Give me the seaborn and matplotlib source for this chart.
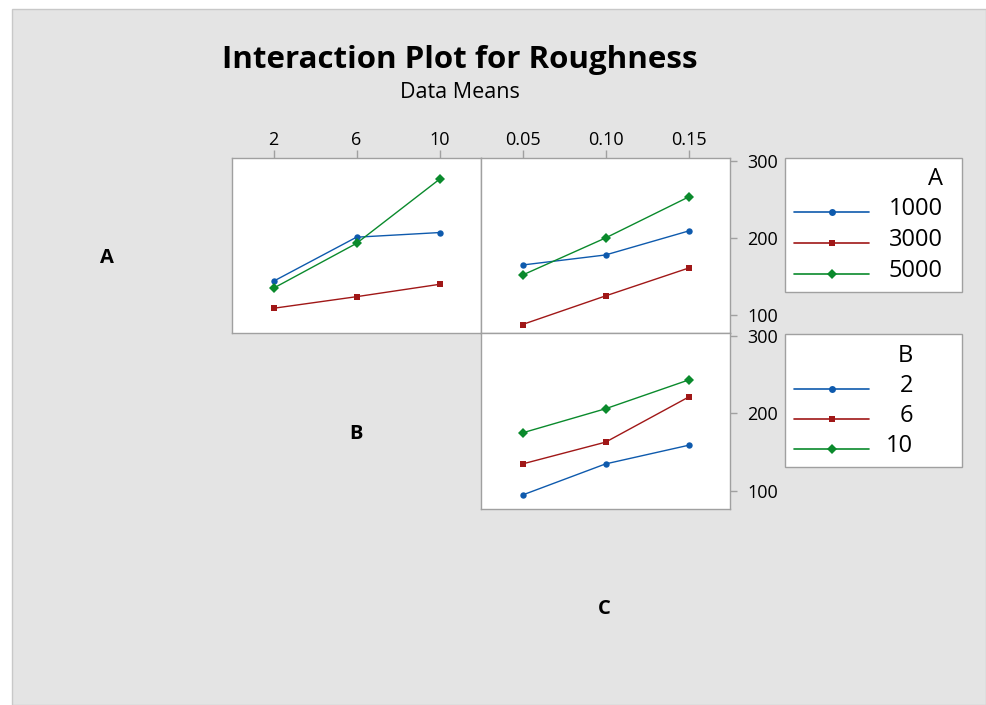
import numpy as np
import pandas as pd
import matplotlib
matplotlib.use("Agg")
import matplotlib.pyplot as plt
import seaborn as sns
from matplotlib.lines import Line2D
from matplotlib.patches import Rectangle

# ---------------- data ----------------
A_levels = [1000, 3000, 5000]
B_levels = [2, 6, 10]
C_levels = [0.05, 0.10, 0.15]

# mean roughness of A at each B
AB_1000 = [144, 201, 207]
AB_3000 = [109, 124, 140]
AB_5000 = [135, 193, 276]
# mean roughness of A at each C
AC_1000 = [165, 178, 209]
AC_3000 = [88, 125, 161]
AC_5000 = [152, 200, 253]
# mean roughness of B at each C
BC_2 = [95, 135, 159]
BC_6 = [135, 163, 221]
BC_10 = [175, 206, 243]

y_ticks = [100, 200, 300]
x_tick_labels_B = ["2", "6", "10"]
x_tick_labels_C = ["0.05", "0.10", "0.15"]

df_ab = pd.DataFrame({"A": np.repeat(A_levels, 3), "X": B_levels * 3,
                      "Roughness": AB_1000 + AB_3000 + AB_5000})
df_ac = pd.DataFrame({"A": np.repeat(A_levels, 3), "X": C_levels * 3,
                      "Roughness": AC_1000 + AC_3000 + AC_5000})
df_bc = pd.DataFrame({"B": np.repeat(B_levels, 3), "X": C_levels * 3,
                      "Roughness": BC_2 + BC_6 + BC_10})

colors = ["#0E5AAD", "#A01717", "#0A8A2C"]
markers = ["o", "s", "D"]

# ---------------- style ----------------
sns.set_style("white")
plt.rcParams["font.family"] = ["Open Sans", "DejaVu Sans"]
plt.rcParams["text.color"] = "black"
plt.rcParams["axes.labelcolor"] = "black"
plt.rcParams["xtick.color"] = "black"
plt.rcParams["ytick.color"] = "black"

W, H = 986, 705
fig = plt.figure(figsize=(W / 100, H / 100), dpi=100)
fig.patch.set_facecolor("white")
fig.patches.append(Rectangle((12 / W, 0), 1 - 12 / W, 1 - 9 / H,
                             transform=fig.transFigure, facecolor="#E4E4E4",
                             edgecolor="#C8C8C8", lw=1, zorder=-10))


def box(x0, y0, x1, y1):
    return [x0 / W, 1 - y1 / H, (x1 - x0) / W, (y1 - y0) / H]


edge = "#A0A0A0"
YLIM = (77, 303.5)


def style_axes(ax, xlim):
    ax.set_facecolor("white")
    ax.set_xlim(*xlim)
    ax.set_ylim(*YLIM)
    ax.set_xlabel("")
    ax.set_ylabel("")
    for s in ax.spines.values():
        s.set_color(edge)
        s.set_linewidth(1)
        s.set_visible(True)


ax1 = fig.add_axes(box(232, 158, 481, 333))
ax2 = fig.add_axes(box(481, 158, 730, 333))
ax3 = fig.add_axes(box(481, 333, 730, 509))

kw = dict(dashes=False, legend=False, linewidth=1.0, markersize=4.6,
          markeredgewidth=0)
sns.lineplot(data=df_ab, x="X", y="Roughness", hue="A", style="A",
             palette=dict(zip(A_levels, colors)),
             markers=dict(zip(A_levels, markers)), ax=ax1, **kw)
sns.lineplot(data=df_ac, x="X", y="Roughness", hue="A", style="A",
             palette=dict(zip(A_levels, colors)),
             markers=dict(zip(A_levels, markers)), ax=ax2, **kw)
sns.lineplot(data=df_bc, x="X", y="Roughness", hue="B", style="B",
             palette=dict(zip(B_levels, colors)),
             markers=dict(zip(B_levels, markers)), ax=ax3, **kw)

style_axes(ax1, (0, 12))
style_axes(ax2, (0.025, 0.175))
style_axes(ax3, (0.025, 0.175))

tick_kw = dict(colors=edge, labelcolor="black", labelsize=13, width=1)
# panel 1: top x ticks only
ax1.set_xticks(B_levels, x_tick_labels_B)
ax1.set_yticks([])
ax1.tick_params(axis="x", bottom=False, labelbottom=False, top=True,
                labeltop=True, length=6, pad=0.8, **tick_kw)
# panel 2: top x ticks, right y ticks
ax2.set_xticks(C_levels, x_tick_labels_C)
ax2.tick_params(axis="x", bottom=False, labelbottom=False, top=True,
                labeltop=True, length=6, pad=0.8, **tick_kw)
ax2.set_yticks(y_ticks, [str(v) for v in y_ticks])
ax2.tick_params(axis="y", left=False, labelleft=False, right=True,
                labelright=True, length=5, pad=7.5, **tick_kw)
# panel 3: right y ticks only
ax3.set_xticks([])
ax3.set_yticks(y_ticks, [str(v) for v in y_ticks])
ax3.tick_params(axis="y", left=False, labelleft=False, right=True,
                labelright=True, length=5, pad=7.5, **tick_kw)

# ---------------- overlay (text, legends) ----------------
ov = fig.add_axes([0, 0, 1, 1])
ov.set_xlim(0, W)
ov.set_ylim(H, 0)
ov.axis("off")
ov.patch.set_alpha(0)

ov.text(460, 68, "Interaction Plot for Roughness", ha="center",
        va="baseline", fontsize=22.5, fontweight="bold")
ov.text(460, 98, "Data Means", ha="center", va="baseline", fontsize=15.5)

ov.text(107, 263, "A", ha="center", va="baseline", fontsize=14.5,
        fontweight="bold")
ov.text(356, 439, "B", ha="center", va="baseline", fontsize=14.5,
        fontweight="bold")
ov.text(604, 614, "C", ha="center", va="baseline", fontsize=14.5,
        fontweight="bold")


def legend(x0, y0, x1, y1, title, title_base, labels, line_ys, text_right):
    ov.add_patch(Rectangle((x0, y0), x1 - x0, y1 - y0, facecolor="white",
                           edgecolor=edge, lw=1))
    ov.text(text_right, title_base, title, ha="right", va="baseline",
            fontsize=17)
    for lab, ly, c, m in zip(labels, line_ys, colors, markers):
        ov.add_line(Line2D([794, 869], [ly, ly], color=c, lw=1.2))
        ov.add_line(Line2D([831.5], [ly], color=c, marker=m, markersize=5,
                           markeredgewidth=0, lw=0))
        ov.text(text_right, ly + 3, lab, ha="right", va="baseline",
                fontsize=17)


legend(785, 158, 962, 292, "A", 185, [str(a) for a in A_levels],
       [212, 243, 274], 943)
legend(785, 334, 962, 467, "B", 362, [str(b) for b in B_levels],
       [389, 419, 449], 913)

fig.savefig("out.png", dpi=100)
